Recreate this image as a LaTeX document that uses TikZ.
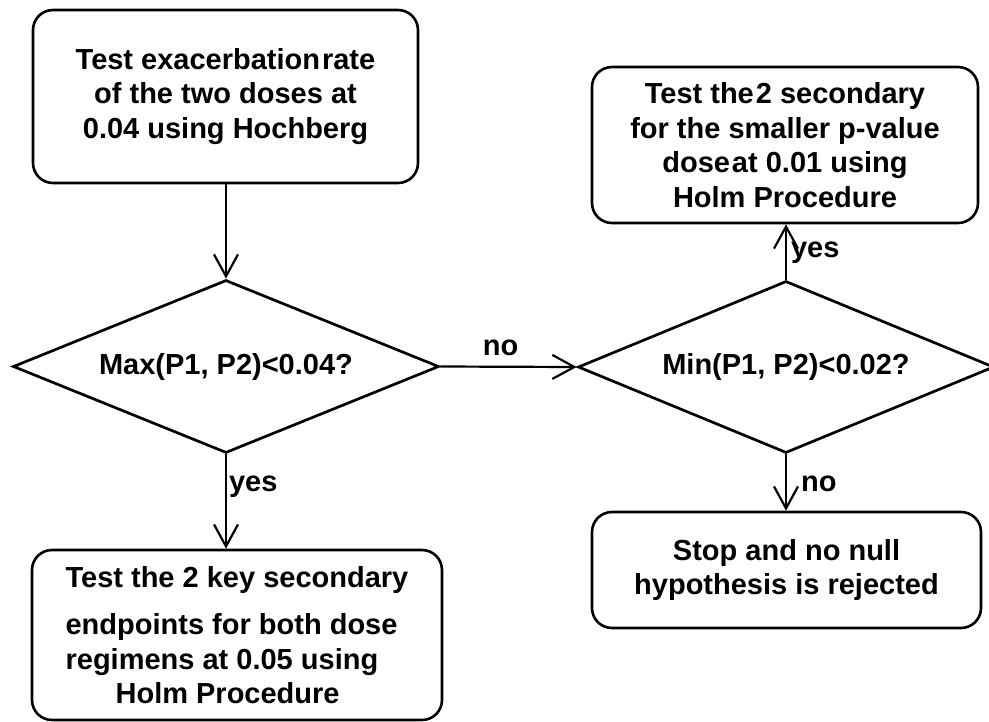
\documentclass[tikz,border=0pt]{standalone}
\usepackage{fontspec}
\setmainfont{Liberation Sans}
\usetikzlibrary{shapes.geometric,arrows.meta}
\tikzset{
  txt/.style={font=\fontsize{29}{34.5}\selectfont\bfseries},
  boxnode/.style={txt, draw, line width=2.6pt, rounded corners=20pt, inner sep=0pt, align=center},
  decnode/.style={txt, draw, diamond, line width=2.7pt, inner sep=0pt},
  arr/.style={line width=2.2pt, -{Straight Barb[length=22pt,width=24pt]}},
  lbl/.style={txt, inner sep=0pt, anchor=base west}
}
\begin{document}
\begin{tikzpicture}[x=1pt,y=-1pt]
\useasboundingbox (0,0) rectangle (989,721);
\node[boxnode, minimum width=385pt, minimum height=173pt] (tl) at (225.5,96.5)
  {Test exacerbation\kern2pt rate\\of the two doses at\\0.04 using Hochberg};
\node[decnode, aspect=2.46, minimum width=426pt, minimum height=173pt] (ld) at (226,366.5)
  {Max(P1, P2)<0.04?};
\node[decnode, aspect=2.42, minimum width=416pt, minimum height=172pt] (rd) at (786,367)
  {Min(P1, P2)<0.02?};
\node[boxnode, minimum width=386pt, minimum height=156pt] (tr) at (785,145)
  {Test the\kern2pt 2 secondary\\for the smaller p-value\\dose\kern2pt at 0.01 using\\Holm Procedure};
\node[boxnode, minimum width=410pt, minimum height=170pt, align=left] (bl) at (237,635)
  {Test the 2 key secondary\\[13pt]endpoints for both dose\\regimens at 0.05 using\\\hspace*{50pt}Holm Procedure};
\node[boxnode, minimum width=389pt, minimum height=116pt] (br) at (786.5,570)
  {Stop and no null\\hypothesis is rejected};
\draw[arr] (ld.north |- tl.south) -- (ld.north);
\draw[arr] (ld.east) -- node[txt, midway, anchor=south, inner sep=0pt, yshift=10pt, xshift=-8pt] (lno) {no} (rd.west);
\draw[arr] (ld.south) -- node[lbl, pos=0.39, xshift=2pt] (lyes) {yes} (ld.south |- bl.north);
\draw[arr] (rd.north) -- node[lbl, pos=0.40, xshift=4pt] (ryes) {yes} (rd.north |- tr.south);
\draw[arr] (rd.south) -- node[lbl, pos=0.66, xshift=14pt] (rno) {no} (rd.south |- br.north);
\end{tikzpicture}
\end{document}
